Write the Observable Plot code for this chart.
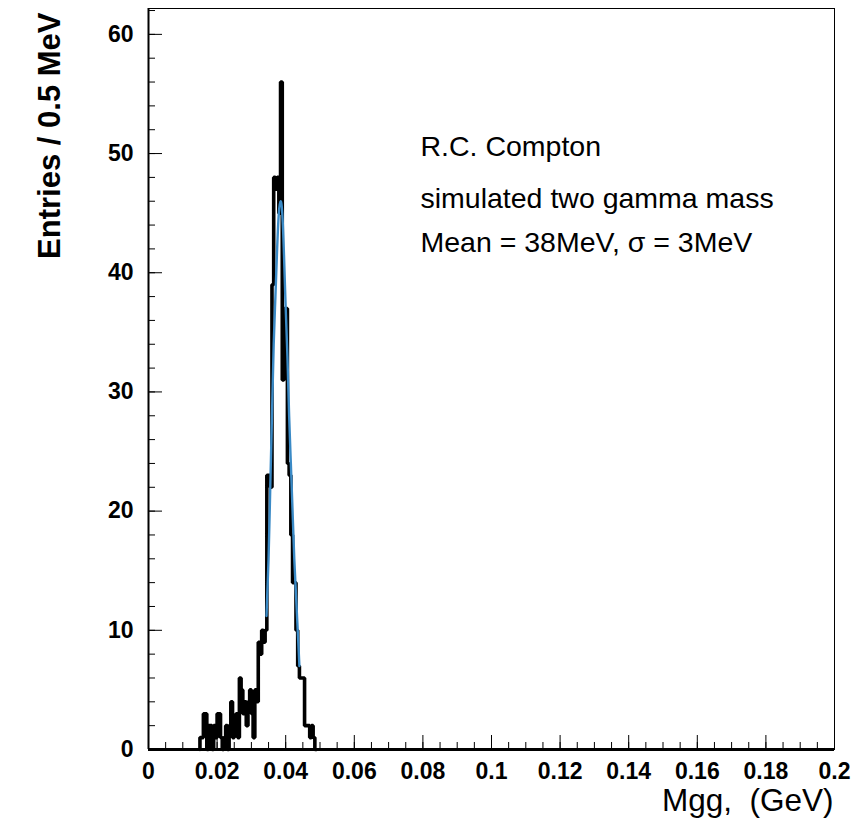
<!DOCTYPE html>
<html><head><meta charset="utf-8">
<script src="https://cdn.jsdelivr.net/npm/d3@7"></script>
<script src="https://cdn.jsdelivr.net/npm/@observablehq/plot@0.6"></script>
<style>body{margin:0;background:#fff} svg{display:block}</style>
</head><body><div id="chart"></div>
<script>
// ---- data ----
const binStart = 0.015;   // GeV, left edge of first filled bin
const binWidth = 0.0005;  // 0.5 MeV
const counts = [1,1,3,3,0,2,2,0,2,1,3,3,1,0,1,2,0,2,4,1,2,3,1,6,5,3,4,2,4,5,3,1,5,4,9,8,10,9,10,23,23,22,39,48,47,48,45,56,31,37,37,24,23,18,14,14,10,7,6,6,6,2,2,2,1,2,1,0];
const fitX = [0.0344,0.0350,0.0355,0.0360,0.0365,0.0370,0.0375,0.0380,0.0385,0.0390,0.0395,0.0400,0.0405,0.0410,0.0415,0.0420,0.0425,0.0430,0.0435,0.0440];
const fitY = [11.2,16,22,28,34,38,42,45,46,45,41.5,37,33,28,24,20,16,13,10,7];
const yTickValues = [0,10,20,30,40,50,60];
const xTickValues = [0,0.02,0.04,0.06,0.08,0.1,0.12,0.14,0.16,0.18,0.2];
const xTickLabels = ["0","0.02","0.04","0.06","0.08","0.1","0.12","0.14","0.16","0.18","0.2"];
const annotations = ["R.C. Compton","simulated two gamma mass","Mean = 38MeV, \u03c3 = 3MeV"];
const xTitle = "Mgg,  (GeV)";
const yTitle = "Entries / 0.5 MeV";

// ---- derived tables ----
const steps = [{x: binStart, y: 0}];
counts.forEach((c, i) => {
  const x0 = binStart + i * binWidth;
  steps.push({x: x0, y: c}, {x: x0 + binWidth, y: c});
});
steps.push({x: binStart + counts.length * binWidth, y: 0});
const fit = fitX.map((x, i) => ({x, y: fitY[i]}));
const xMinor = d3.range(0, 0.2001, 0.005);
const yMinor = d3.range(0, 62.1, 2);

const W = 868, H = 823, mL = 148, mR = 34, mT = 8, mB = 74;
const innerW = W - mL - mR, innerH = H - mT - mB;

const chart = Plot.plot({
  width: W, height: H,
  marginLeft: mL, marginRight: mR, marginTop: mT, marginBottom: mB,
  style: {fontFamily: "'Liberation Sans', Arial, Helvetica, sans-serif", background: "white", color: "black"},
  x: {domain: [0, 0.2]},
  y: {domain: [0, 62.17]},
  marks: [
    Plot.frame({stroke: "black", strokeWidth: 1}),
    Plot.ruleX([0], {stroke: "black", strokeWidth: 2}),
    Plot.tickX(xMinor, {x: d => d, insetTop: innerH - 7, stroke: "black", strokeWidth: 1}),
    Plot.tickX(xTickValues, {x: d => d, insetTop: innerH - 14, stroke: "black", strokeWidth: 1}),
    Plot.tickY(yMinor, {y: d => d, insetRight: innerW - 7, stroke: "black", strokeWidth: 1}),
    Plot.tickY(yTickValues, {y: d => d, insetRight: innerW - 14, stroke: "black", strokeWidth: 1}),
    Plot.ruleY([0], {stroke: "black", strokeWidth: 3}),
    Plot.line(steps, {x: "x", y: "y", stroke: "black", strokeWidth: 3.6, strokeLinejoin: "miter"}),
    Plot.line(fit, {x: "x", y: "y", stroke: "#3a8ac6", strokeWidth: 2.4, curve: "natural"}),
    Plot.axisX(xTickValues, {tickSize: 0, tickPadding: 13, label: null, fontSize: 23, fontWeight: "bold",
      tickFormat: d => xTickLabels[xTickValues.indexOf(d)]}),
    Plot.axisY(yTickValues, {tickSize: 0, tickPadding: 15, label: null, fontSize: 23, fontWeight: "bold"}),
    Plot.text([xTitle], {frameAnchor: "bottom-right", dx: -1, dy: 61, textAnchor: "end", lineAnchor: "bottom",
      fontSize: 31.5, fill: "black"}),
    Plot.text([yTitle], {frameAnchor: "top-left", dx: -89, dy: 4, rotate: -90, textAnchor: "end", lineAnchor: "bottom",
      fontSize: 31, fontWeight: "bold", fill: "black"}),
    Plot.text([annotations[0]], {frameAnchor: "top-left", dx: 272, dy: 147, textAnchor: "start", lineAnchor: "bottom", fontSize: 28.5, fill: "black"}),
    Plot.text([annotations[1]], {frameAnchor: "top-left", dx: 272, dy: 199, textAnchor: "start", lineAnchor: "bottom", fontSize: 28.5, fill: "black"}),
    Plot.text([annotations[2]], {frameAnchor: "top-left", dx: 272, dy: 243, textAnchor: "start", lineAnchor: "bottom", fontSize: 28.5, fill: "black"})
  ]
});
chart.querySelectorAll("text").forEach(t => t.setAttribute("xml:space", "preserve"));
chart.style.whiteSpace = "pre";
document.getElementById("chart").appendChild(chart);
</script>
</body></html>
